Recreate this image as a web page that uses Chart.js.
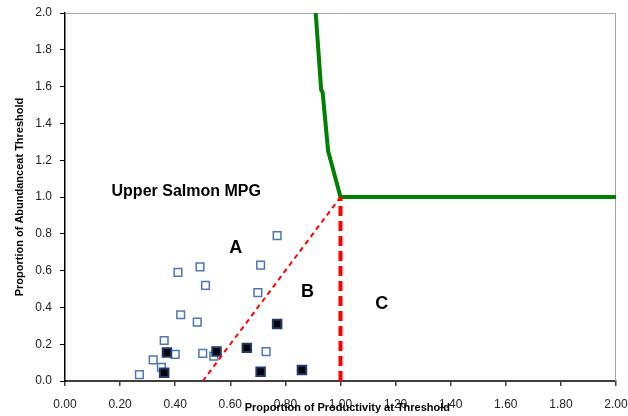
<!DOCTYPE html>
<html>
<head>
<meta charset="utf-8">
<script src="https://cdn.jsdelivr.net/npm/chart.js@4/dist/chart.umd.min.js"></script>
<style>
  html, body { margin: 0; padding: 0; background: #fff; }
  canvas { display: block; }
</style>
</head>
<body>
<canvas id="chart" width="628" height="416"></canvas>
<script>
// Populations non-viables (carrés vides)
const openX = [0.77, 0.71, 0.49, 0.41, 0.51, 0.70, 0.42, 0.48, 0.36, 0.40, 0.50, 0.54, 0.73, 0.32, 0.35, 0.27];
const openY = [0.79, 0.63, 0.62, 0.59, 0.52, 0.48, 0.36, 0.32, 0.22, 0.145, 0.15, 0.135, 0.16, 0.115, 0.075, 0.035];

// Populations viables (carrés pleins)
const filledX = [0.77, 0.66, 0.55, 0.37, 0.36, 0.71, 0.86];
const filledY = [0.31, 0.18, 0.16, 0.155, 0.045, 0.05, 0.06];

// Courbe verte du seuil de viabilité
const curveX = [0.91, 0.93, 0.935, 0.955, 1.0, 2.0];
const curveY = [2.0, 1.58, 1.57, 1.25, 1.0, 1.0];

// Lignes pointillées rouges
const diagX = [0.5, 1.0];
const diagY = [0.0, 1.0];
const vertX = [1.0, 1.0];
const vertY = [0.0, 1.0];

// Annotations
const labelTexts = ['Upper Salmon MPG', 'A', 'B', 'C'];
const labelX = [0.44, 0.62, 0.88, 1.15];
const labelY = [1.03, 0.725, 0.485, 0.42];
const xTitle = 'Proportion of Productivity at Threshold';

const toPoints = (xs, ys) => xs.map((x, i) => ({ x: x, y: ys[i] }));

Chart.defaults.font.family = '"Liberation Sans", Arial, sans-serif';

// Cadre gris haut/droite + textes
const frameAndLabels = {
    id: 'frameAndLabels',
    beforeDatasetsDraw(chart) {
        const a = chart.chartArea;
        const ctx = chart.ctx;
        ctx.save();
        ctx.strokeStyle = '#a6a6a6';
        ctx.lineWidth = 1;
        ctx.beginPath();
        ctx.moveTo(a.left, a.top + 0.5);
        ctx.lineTo(a.right - 0.5, a.top + 0.5);
        ctx.lineTo(a.right - 0.5, a.bottom);
        ctx.stroke();
        ctx.restore();
    },
    afterDatasetsDraw(chart) {
        const ctx = chart.ctx;
        const xs = chart.scales.x, ys = chart.scales.y;
        ctx.save();
        ctx.fillStyle = '#000';
        ctx.textAlign = 'center';
        ctx.textBaseline = 'middle';
        labelTexts.forEach((t, i) => {
            ctx.font = i === 0 ? 'bold 16px "Liberation Sans", Arial' : 'bold 18px "Liberation Sans", Arial';
            ctx.fillText(t, xs.getPixelForValue(labelX[i]), ys.getPixelForValue(labelY[i]));
        });
        // titre de l'axe X, chevauche un peu les étiquettes comme l'original
        ctx.font = 'bold 11px "Liberation Sans", Arial';
        ctx.fillText(xTitle, xs.getPixelForValue(1.025), chart.height - 8);
        ctx.restore();
    }
};

new Chart(document.getElementById('chart'), {
    type: 'scatter',
    data: {
        datasets: [{
            data: toPoints(diagX, diagY),
            showLine: true,
            borderColor: '#ff0000',
            borderWidth: 2,
            borderDash: [5, 4],
            pointRadius: 0
        }, {
            data: toPoints(vertX, vertY),
            showLine: true,
            borderColor: '#ff0000',
            borderWidth: 4,
            borderDash: [10, 5],
            pointRadius: 0
        }, {
            data: toPoints(curveX, curveY),
            showLine: true,
            borderColor: '#008000',
            borderWidth: 4,
            pointRadius: 0
        }, {
            data: toPoints(filledX, filledY),
            pointStyle: 'rect',
            pointRadius: 6,
            backgroundColor: '#000',
            borderColor: '#1f3a6e',
            borderWidth: 2
        }, {
            data: toPoints(openX, openY),
            pointStyle: 'rect',
            pointRadius: 5.4,
            backgroundColor: '#fff',
            borderColor: '#4a78b5',
            borderWidth: 1.5
        }]
    },
    options: {
        responsive: false,
        animation: false,
        devicePixelRatio: 1,
        layout: { padding: { top: 13, right: 12, left: 0, bottom: 0 } },
        plugins: {
            legend: { display: false },
            tooltip: { enabled: false }
        },
        scales: {
            x: {
                min: 0,
                max: 2,
                afterFit: s => {
                    s.height = 35;
                    s.paddingLeft = 0;
                    s.paddingRight = 0;
                },
                ticks: {
                    stepSize: 0.2,
                    padding: 11,
                    color: '#222',
                    font: { size: 12 },
                    maxRotation: 0,
                    callback: v => v.toFixed(2)
                },
                grid: { drawOnChartArea: false, tickLength: 5, color: '#404040', lineWidth: 1.5 },
                border: { color: '#404040', width: 2 }
            },
            y: {
                min: 0,
                max: 2,
                afterFit: s => {
                    s.width = 65;
                    s.paddingTop = 0;
                    s.paddingBottom = 0;
                },
                ticks: {
                    stepSize: 0.2,
                    padding: 8,
                    color: '#222',
                    font: { size: 12 },
                    callback: v => v.toFixed(1)
                },
                grid: { drawOnChartArea: false, tickLength: 5, color: '#000', lineWidth: 1 },
                border: { color: '#000', width: 1.5 },
                title: {
                    display: true,
                    text: 'Proportion of Abundanceat Threshold',
                    color: '#000',
                    font: { size: 11, weight: 'bold' },
                    padding: { top: 13, bottom: 0 }
                }
            }
        }
    },
    plugins: [frameAndLabels]
});
</script>
</body>
</html>
